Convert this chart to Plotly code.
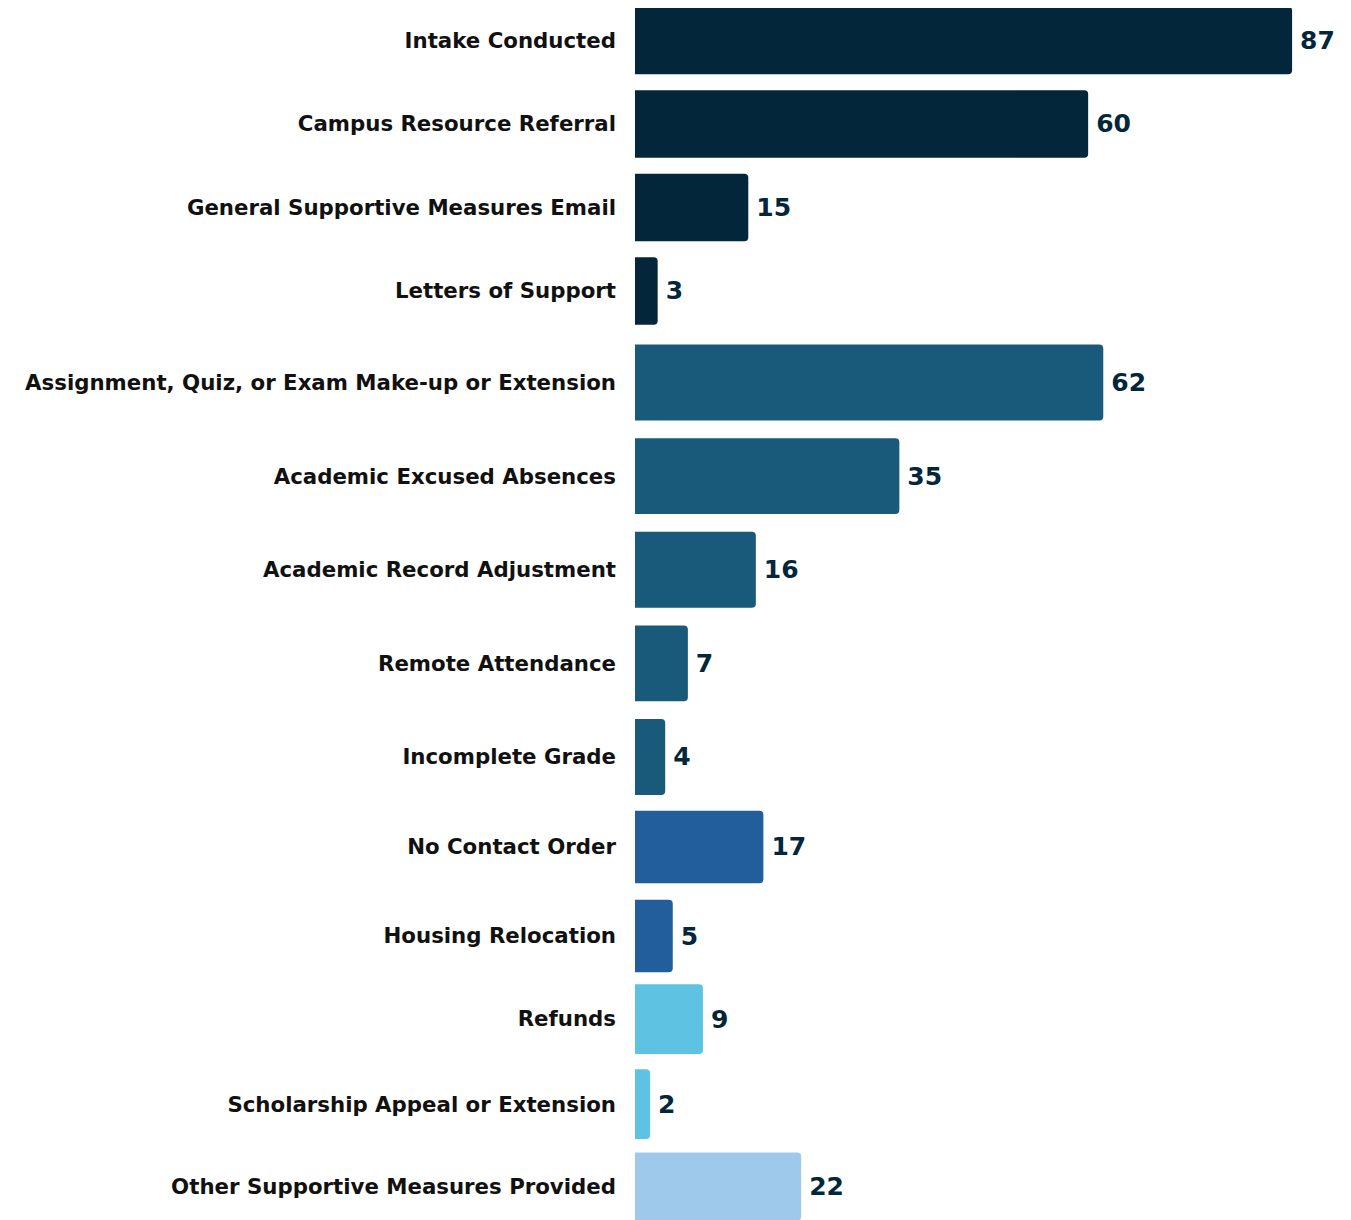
import plotly.graph_objects as go

# ---- data ----
g1_labels = ["Intake Conducted", "Campus Resource Referral",
             "General Supportive Measures Email", "Letters of Support"]
g1_values = [87, 60, 15, 3]

g2_labels = ["Assignment, Quiz, or Exam Make-up or Extension", "Academic Excused Absences",
             "Academic Record Adjustment", "Remote Attendance", "Incomplete Grade"]
g2_values = [62, 35, 16, 7, 4]

g3_labels = ["No Contact Order", "Housing Relocation"]
g3_values = [17, 5]

g4_labels = ["Refunds", "Scholarship Appeal or Extension"]
g4_values = [9, 2]

g5_labels = ["Other Supportive Measures Provided"]
g5_values = [22]

group_colors = ["#03263A", "#195A7B", "#225E9B", "#5EC3E2", "#9FC9EB"]

groups = [(g1_labels, g1_values), (g2_labels, g2_values), (g3_labels, g3_values),
          (g4_labels, g4_values), (g5_labels, g5_values)]

# ---- layout of groups (vertical domain fractions and category ranges) ----
group_domains = [[0.7321, 1.0], [0.3434, 0.7296], [0.1976, 0.3445], [0.0606, 0.2009], [0.0, 0.0627]]
group_ranges = [[3.5, -0.389], [4.5, -0.5], [1.5, -0.5], [1.5, -0.5], [0.394, -0.5]]
group_widths = [0.81, 0.81, 0.815, 0.82, 0.8]

FONT = "DejaVu Sans"
VALUE_FONT = dict(family=FONT, size=25, color="#03263A", weight="bold")
TICK_FONT = dict(family=FONT, size=21.3, color="#111111", weight="bold")

fig = go.Figure()
layout_axes = {}
for i, ((labels, values), color, dom, rng, w) in enumerate(
        zip(groups, group_colors, group_domains, group_ranges, group_widths)):
    yname = "y" if i == 0 else f"y{i+1}"
    fig.add_trace(go.Bar(
        x=values, y=labels, orientation="h",
        yaxis=yname, xaxis="x",
        marker=dict(color=color, cornerradius=4, line=dict(width=0)),
        width=w,
        texttemplate="\u2009%{x}",
        textposition="outside",
        textfont=VALUE_FONT,
        cliponaxis=False,
        showlegend=False,
        hoverinfo="x+y",
    ))
    key = "yaxis" if i == 0 else f"yaxis{i+1}"
    layout_axes[key] = dict(
        domain=dom, anchor="x", type="category",
        categoryorder="array", categoryarray=labels,
        range=rng,
        showgrid=False, zeroline=False, showline=False,
        ticks="", ticklabelstandoff=18,
        tickfont=TICK_FONT,
    )

fig.update_layout(
    width=1343, height=1212,
    margin=dict(l=627, r=0, t=0, b=0, autoexpand=False),
    paper_bgcolor="white", plot_bgcolor="white",
    xaxis=dict(range=[0, 94.8], visible=False, anchor="y5", fixedrange=True),
    **layout_axes,
)

fig.write_html("out.html")
